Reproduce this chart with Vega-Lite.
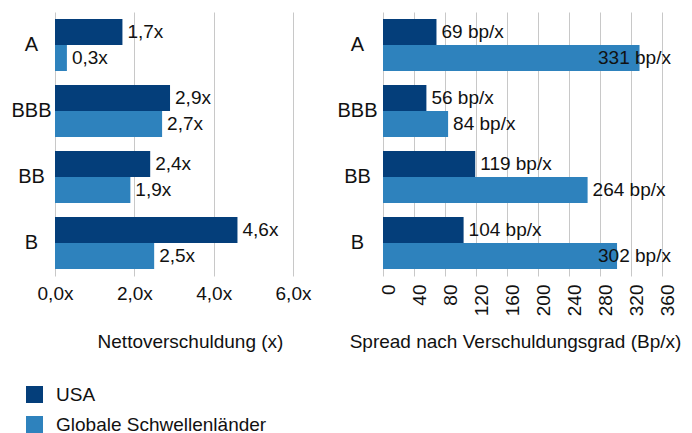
{
  "$schema": "https://vega.github.io/schema/vega-lite/v6.json",
  "padding": {"left": 10, "top": 12, "right": 5, "bottom": 0},
  "background": "white",
  "config": {
    "font": "Liberation Sans",
    "view": {"stroke": null},
    "axis": {"labelColor": "#111111", "titleColor": "#111111", "titleFontWeight": "normal", "labelFontSize": 19, "titleFontSize": 19, "gridColor": "#c8c8c8", "gridWidth": 1, "labelFlush": false, "labelOverlap": false}
  },
  "datasets": {
    "d": [
      {"rating": "A", "series": "USA", "net": 1.7, "spread": 69},
      {"rating": "A", "series": "Globale Schwellenländer", "net": 0.3, "spread": 331},
      {"rating": "BBB", "series": "USA", "net": 2.9, "spread": 56},
      {"rating": "BBB", "series": "Globale Schwellenländer", "net": 2.7, "spread": 84},
      {"rating": "BB", "series": "USA", "net": 2.4, "spread": 119},
      {"rating": "BB", "series": "Globale Schwellenländer", "net": 1.9, "spread": 264},
      {"rating": "B", "series": "USA", "net": 4.6, "spread": 104},
      {"rating": "B", "series": "Globale Schwellenländer", "net": 2.5, "spread": 302}
    ]
  },
  "spacing": 25,
  "hconcat": [
    {
      "width": 238,
      "height": 264,
      "data": {"name": "d"},
      "transform": [
        {"calculate": "replace(format(datum.net,'.1f'),'.',',')+'x'", "as": "netLabel"}
      ],
      "encoding": {
        "y": {"field": "rating", "type": "nominal", "sort": ["A", "BBB", "BB", "B"],
          "scale": {"paddingInner": 0.212, "paddingOuter": 0.106},
          "axis": {"title": null, "domain": false, "ticks": false, "labelPadding": 24, "labelAlign": "center", "labelFontSize": 20}},
        "yOffset": {"field": "series", "sort": ["USA", "Globale Schwellenländer"]},
        "x": {"field": "net", "type": "quantitative", "scale": {"domain": [0, 6], "nice": false},
          "axis": {"values": [0, 2, 4, 6], "labelExpr": "replace(format(datum.value,'.1f'),'.',',')+'x'",
            "grid": true, "domain": false, "ticks": false, "labelPadding": 8, "labelFlush": false, "labelOverlap": false,
            "title": "Nettoverschuldung (x)", "titleX": 135, "titleY": 65, "titleBaseline": "middle"}}
      },
      "layer": [
        {
          "mark": {"type": "bar"},
          "encoding": {
            "color": {"field": "series", "type": "nominal",
              "scale": {"domain": ["USA", "Globale Schwellenländer"], "range": ["#043e7a", "#2e82bd"]},
              "legend": {"title": null, "orient": "none", "legendX": -30, "legendY": 373, "direction": "vertical",
                "symbolType": "square", "symbolSize": 289, "symbolStrokeWidth": 0, "labelFontSize": 19, "labelOffset": 12, "rowPadding": 10, "labelLimit": 400, "labelColor": "#111111"}}
          }
        },
        {
          "mark": {"type": "text", "align": "left", "baseline": "middle", "dx": 5, "fontSize": 19, "color": "#111111"},
          "encoding": {
            "text": {"field": "netLabel"}
          }
        }
      ]
    },
    {
      "width": 279,
      "height": 264,
      "data": {"name": "d"},
      "transform": [
        {"calculate": "datum.spread + ' bp/x'", "as": "spreadLabel"},
        {"calculate": "min(datum.spread, 271)", "as": "labelPos"}
      ],
      "encoding": {
        "y": {"field": "rating", "type": "nominal", "sort": ["A", "BBB", "BB", "B"],
          "scale": {"paddingInner": 0.212, "paddingOuter": 0.106},
          "axis": {"title": null, "domain": false, "ticks": false, "labelPadding": 26, "labelAlign": "center", "labelFontSize": 20}},
        "yOffset": {"field": "series", "sort": ["USA", "Globale Schwellenländer"]}
      },
      "layer": [
        {
          "mark": {"type": "bar"},
          "encoding": {
            "x": {"field": "spread", "type": "quantitative", "scale": {"domain": [0, 360], "nice": false},
              "axis": {"values": [0, 40, 80, 120, 160, 200, 240, 280, 320, 360],
                "grid": true, "domain": false, "ticks": false, "labelPadding": 8, "labelAngle": 270,
                "labelAlign": "right", "labelBaseline": "middle", "labelOffset": 5, "labelFlush": false, "labelOverlap": false, "labelSeparation": 0, "labelBound": false,
                "title": "Spread nach Verschuldungsgrad (Bp/x)", "titleX": 132, "titleY": 65, "titleBaseline": "middle"}},
            "color": {"field": "series", "type": "nominal",
              "scale": {"domain": ["USA", "Globale Schwellenländer"], "range": ["#043e7a", "#2e82bd"]}}
          }
        },
        {
          "mark": {"type": "text", "align": "left", "baseline": "middle", "dx": 5, "fontSize": 19, "color": "#111111"},
          "encoding": {
            "x": {"field": "labelPos", "type": "quantitative",
              "axis": {"values": [0, 40, 80, 120, 160, 200, 240, 280, 320, 360],
                "grid": true, "domain": false, "ticks": false, "labelPadding": 8, "labelAngle": 270,
                "labelAlign": "right", "labelBaseline": "middle", "labelOffset": 5, "labelFlush": false, "labelOverlap": false, "labelSeparation": 0, "labelBound": false,
                "title": "Spread nach Verschuldungsgrad (Bp/x)", "titleX": 132, "titleY": 65, "titleBaseline": "middle"}},
            "text": {"field": "spreadLabel"}
          }
        }
      ]
    }
  ]
}
